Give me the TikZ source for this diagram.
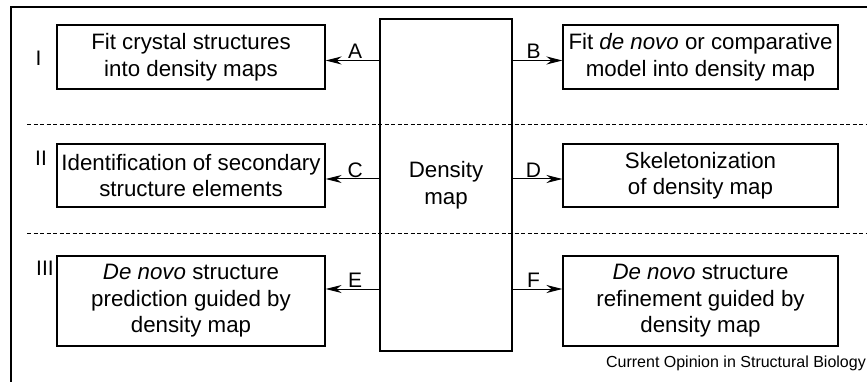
\documentclass[tikz,border=0pt]{standalone}
\usepackage{fontspec}
\setmainfont{Liberation Sans}
\usetikzlibrary{arrows.meta}
\begin{document}
\begin{tikzpicture}[x=1pt,y=-1pt,
  box/.style={draw, line width=1.1pt, align=center, inner sep=0pt,
    font=\fontsize{22.3}{26.5}\selectfont},
  arr/.style={line width=1pt, -{Stealth[length=16pt,width=8pt,inset=5pt]}},
  tag/.style={font=\fontsize{21}{21}\selectfont, inner sep=1pt},
  sep/.style={dashed, dash pattern=on 4pt off 2.5pt, line width=0.8pt}]
\useasboundingbox (0,0) rectangle (867,382);
% outer frame
\draw[line width=1.2pt] (867,7) -- (11,7) -- (11,382);
% separators between rows
\draw[sep] (27,124) -- (867,124);
\draw[sep] (27,233) -- (867,233);
% central density map
\node[box, minimum width=132pt, minimum height=332pt] (dm) at (446,185) {Density\\map};
% left column
\node[box, minimum width=268pt, minimum height=64pt] (a) at (191,57)
  {Fit crystal structures\\into density maps};
\node[box, minimum width=268pt, minimum height=63pt] (c) at (191,175.5)
  {Identification of secondary\\structure elements};
\node[box, minimum width=268pt, minimum height=90pt] (e) at (191,301)
  {\textit{De novo} structure\\prediction guided by\\density map};
% right column
\node[box, minimum width=275pt, minimum height=64pt] (b) at (700.5,57)
  {Fit \textit{de novo} or comparative\\model into density map};
\node[box, minimum width=275pt, minimum height=63pt] (d) at (700.5,175.5)
  {Skeletonization\\of density map};
\node[box, minimum width=275pt, minimum height=90pt] (f) at (700.5,301)
  {\textit{De novo} structure\\refinement guided by\\density map};
% connectors
\draw[arr] (dm.west |- 0,60.5) -- node[tag, above, pos=0.45] {A} (a.east |- 0,60.5);
\draw[arr] (dm.west |- 0,179) -- node[tag, above, pos=0.45] {C} (c.east |- 0,179);
\draw[arr] (dm.west |- 0,289) -- node[tag, above, pos=0.45] {E} (e.east |- 0,289);
\draw[arr] (dm.east |- 0,60.5) -- node[tag, above, pos=0.42] {B} (b.west |- 0,60.5);
\draw[arr] (dm.east |- 0,179) -- node[tag, above, pos=0.42] {D} (d.west |- 0,179);
\draw[arr] (dm.east |- 0,289) -- node[tag, above, pos=0.42] {F} (f.west |- 0,289);
% row numerals
\node[tag] (r1) at (38.5,58) {I};
\node[tag] (r2) at (41,158) {II};
\node[tag] (r3) at (45,268) {III};
% credit line
\node[anchor=east, inner sep=0pt, font=\fontsize{16}{16}\selectfont] (cr) at (866,363)
  {Current Opinion in Structural Biology};
\end{tikzpicture}
\end{document}
